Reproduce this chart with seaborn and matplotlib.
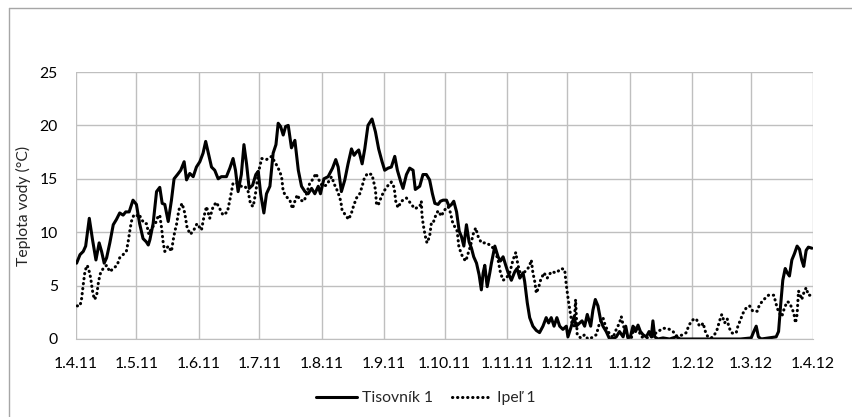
import matplotlib
matplotlib.use("Agg")
import matplotlib.pyplot as plt
import seaborn as sns
import pandas as pd
from matplotlib.lines import Line2D

# Day offsets from 1.4.2011 and water temperatures (°C)
tis_day = [0.3, 2, 3.6, 4.8, 6.6, 8.2, 9.9, 11.5, 12.7, 14, 15.2, 16.8, 18.5, 20.1, 21.7, 23.4,
           24.7, 26.4, 28.3, 30, 31.6, 33.3, 34.9, 35.9, 36.7, 38.3, 40, 41.6, 42.8, 44.1, 45.8,
           47.4, 48.7, 50.4, 52, 53.7, 54.9, 56.5, 58.2, 59.8, 61.5, 63.1, 64.4, 65.6, 67.3, 68.9,
           70.6, 72.2, 74.7, 76.4, 78, 79.2, 80.5, 82.1, 83.4, 84.7, 86, 87.7, 89.3, 90.5, 91.7,
           93.3, 94.6, 96.3, 97.9, 99.3, 100.4, 101.6, 102.9, 104.1, 105.4, 107, 108.7, 110.4,
           112, 113.7, 115.3, 117, 118.6, 120.3, 121.4, 123.1, 125.2, 127.4, 129, 130.2, 131.8,
           133.5, 135.1, 136.8, 138.1, 139.3, 140.4, 142.1, 143.4, 145, 147, 148.7, 150.3, 152,
           153.3, 155, 156.6, 158.3, 159.6, 161.3, 162.4, 164.1, 165.7, 167.4, 168.5, 170.7,
           172.3, 174, 175.6, 177, 178.2, 179.8, 181, 182.3, 184, 185.3, 186.5, 187.6, 189,
           190.3, 191.4, 192.6, 193.9, 195.2, 196.4, 197.5, 198.9, 200.2, 201.3, 202.2, 203,
           204.2, 205.5, 206.3, 208, 209.6, 210.8, 212.1, 213.4, 214.6, 216.2, 217.9, 219,
           220.4, 222, 222.8, 224.1, 225.3, 226.9, 228.6, 230.2, 231.9, 233.5, 234.7, 236,
           237.4, 238.8, 240.2, 241.8, 243.5, 244.3, 246, 247.3, 248.4, 250.1, 251.3, 252.6,
           253.9, 255.6, 256.7, 257.9, 259.2, 260.5, 261.7, 263.3, 265, 266.6, 268.3, 269.9,
           271.7, 273, 274.1, 275.3, 276.6, 277.9, 279.1, 280.3, 281.6, 283.2, 284.6, 285.7,
           286.5, 287.4, 289, 291.5, 294.8, 298.1, 300, 305, 310, 315, 320, 325, 330, 335.3,
           336.6, 337.8, 338.9, 340.3, 344, 347.7, 348.9, 349.9, 351, 352.2, 353.2, 354.3,
           355.5, 356.8, 358.1, 359.3, 360.4, 361.4, 362.6, 363.7, 365.5]
tis_val = [7.1, 7.9, 8.2, 8.7, 11.3, 9.3, 7.4, 9.0, 8.2, 7.1, 7.6, 9.0, 10.7, 11.2, 11.8, 11.6,
           11.9, 11.9, 13.0, 12.6, 10.8, 9.4, 9.1, 8.8, 9.3, 10.8, 13.8, 14.2, 12.7, 12.6, 11.0,
           13.0, 15.0, 15.4, 15.8, 16.6, 14.9, 15.5, 15.2, 16.1, 16.6, 17.4, 18.5, 17.5, 16.1,
           15.8, 15.0, 15.2, 15.2, 16.0, 16.9, 15.8, 13.8, 15.4, 18.2, 16.4, 14.1, 14.4, 15.4,
           15.7, 13.6, 11.8, 13.6, 14.3, 17.4, 18.2, 20.2, 19.9, 19.1, 19.9, 20.0, 17.9, 18.6,
           15.8, 14.3, 13.8, 13.6, 14.1, 13.6, 14.3, 13.6, 15.0, 15.2, 16.0, 16.8, 16.1, 13.8,
           14.9, 16.4, 17.8, 17.2, 17.5, 17.7, 16.4, 17.8, 20.0, 20.6, 19.4, 17.8, 16.6, 15.8,
           16.0, 16.1, 17.1, 15.8, 14.7, 14.1, 15.4, 16.0, 15.8, 14.0, 14.3, 15.4, 15.4, 14.9,
           13.6, 12.7, 12.6, 12.9, 13.0, 13.0, 12.4, 12.6, 12.9, 11.9, 10.1, 9.6, 8.7, 10.7,
           9.1, 8.5, 7.7, 7.1, 6.0, 4.6, 6.2, 6.9, 4.9, 6.2, 7.1, 8.7, 7.7, 7.3, 7.7, 6.9, 6.2,
           5.5, 6.3, 6.6, 5.7, 6.2, 5.4, 3.4, 2.0, 1.2, 0.8, 0.6, 1.2, 2.0, 1.5, 2.0, 1.2, 2.0,
           1.2, 0.9, 1.2, 0.2, 1.2, 2.1, 1.2, 1.5, 1.7, 1.2, 2.3, 1.2, 2.7, 3.7, 3.1, 1.8, 1.2,
           0.7, 0.0, 0.0, 0.2, 0.7, 0.2, 1.2, 0.1, 0.2, 1.2, 0.7, 1.3, 0.7, 0.4, 0.2, 0.7, 0.2,
           1.7, 0.2, 0.0, 0.1, 0.0, 0.2, 0.0, 0.0, 0.0, 0.0, 0.0, 0.0, 0.0, 0.1, 0.7, 1.2, 0.2,
           0.0, 0.1, 0.2, 0.7, 3.1, 5.5, 6.6, 6.2, 5.9, 7.4, 8.0, 8.7, 8.4, 7.4, 6.8, 8.3, 8.6,
           8.5]

ipel_day = [0.6, 2, 2.8, 3.6, 4.5, 5.6, 6.6, 7.3, 8.1, 9.1, 10.2, 11.2, 12.2, 13.5, 15.2, 16.8,
            18.5, 20.4, 21.7, 23.4, 25, 25.9, 26.7, 27.5, 28.7, 30, 31.3, 32.5, 34.1, 35, 36.2,
            37.5, 39.2, 40.8, 41.6, 42.5, 43.3, 44.1, 45.8, 47.4, 48.3, 49.1, 49.9, 51.1, 52.7,
            54, 55.2, 56.8, 58.5, 60.1, 62.3, 63.6, 64.8, 66.4, 68.1, 69.7, 71.4, 73, 75.2, 76.7,
            78, 79.7, 82.1, 83.9, 85.5, 86.7, 88, 89.3, 90.5, 92.2, 94.6, 97.1, 99.3, 100.9,
            102.1, 102.9, 104.6, 106.2, 107.5, 108.7, 109.9, 111.2, 113.3, 114.5, 116.1, 117.8,
            119.1, 120.6, 122.4, 124.4, 126.9, 128.5, 129.3, 130.5, 131.5, 132.1, 133.8, 135.4,
            136.8, 137.9, 139.3, 140.9, 142.1, 143.1, 144.7, 147, 148, 148.7, 149.2, 150, 151.2,
            152.8, 154.6, 156.6, 158, 158.8, 159.9, 161.6, 164.1, 166.2, 168.2, 170.7, 171.5,
            171.8, 172.3, 172.8, 173.5, 174.3, 175.6, 176.5, 177.4, 178.7, 179.8, 181.5, 182.6,
            184.8, 186, 186.9, 188.1, 189.3, 190.1, 191.1, 192.2, 193.6, 194.7, 195.9, 197.2,
            198.5, 199.7, 201.3, 203.8, 206.3, 208, 209.6, 210.8, 212.1, 213.7, 215.4, 217,
            218.4, 219, 220, 221.2, 222.3, 224.1, 225.3, 226.1, 226.9, 227.8, 228.6, 229.7,
            230.7, 232.4, 234, 236, 238.5, 241, 242.7, 243.1, 243.8, 244.6, 245.5, 246.3, 247.3,
            248.1, 248.9, 250.6, 252.6, 254.2, 255.9, 258.4, 260, 261.7, 262.8, 264.2, 266.6,
            268.3, 269.9, 270.8, 271.7, 272.5, 274.1, 275.8, 277.4, 279.1, 280.8, 283, 286,
            288.2, 289.9, 291.5, 293.2, 294.8, 296.5, 298.1, 299.8, 301.4, 303.1, 304.2, 305.1,
            306.4, 308, 309.4, 310.5, 311.4, 312.7, 313.8, 315.5, 317.1, 318.4, 319.6, 320.7,
            322.1, 323.4, 324.1, 325.4, 326.7, 327.9, 328.7, 330, 331.2, 332.8, 334.5, 336.1,
            338.3, 339.4, 341.6, 343.9, 346.5, 347.4, 348.2, 349.4, 350.5, 351.8, 353.2, 354.3,
            355.5, 356.5, 357.3, 358.1, 358.8, 359.8, 360.4, 361.4, 362.6, 363.7, 365.5]
ipel_val = [3.1, 3.1, 3.8, 5.1, 6.4, 6.9, 6.3, 5.7, 4.6, 3.7, 4.0, 5.4, 6.2, 6.6, 6.9, 6.3,
            6.6, 6.9, 7.6, 7.9, 8.2, 9.1, 10.1, 11.0, 11.6, 11.5, 11.7, 11.2, 10.8, 10.8, 9.8,
            10.4, 10.7, 11.5, 11.6, 10.4, 9.0, 8.2, 8.7, 8.2, 9.3, 10.1, 10.7, 12.1, 12.7, 11.8,
            10.4, 9.8, 10.2, 10.8, 10.2, 11.5, 12.4, 11.3, 12.4, 12.8, 12.2, 11.6, 11.9, 13.3,
            14.6, 14.6, 14.3, 14.3, 13.8, 12.6, 12.4, 13.8, 15.5, 16.9, 16.8, 17.1, 16.4, 15.8,
            15.2, 13.8, 13.3, 13.0, 12.2, 12.9, 13.5, 13.0, 12.9, 13.6, 14.6, 15.0, 15.5, 14.9,
            14.3, 14.4, 15.2, 14.4, 14.1, 13.5, 12.9, 12.1, 11.6, 11.2, 11.8, 12.5, 13.2, 13.6,
            14.3, 15.0, 15.5, 15.4, 14.6, 14.0, 12.7, 12.5, 13.1, 13.8, 14.3, 14.7, 14.2, 12.9,
            12.3, 12.9, 13.2, 12.7, 12.2, 12.4, 12.9, 11.6, 10.9, 10.3, 9.6, 9.0, 9.6, 10.9,
            10.9, 11.6, 12.0, 11.5, 12.0, 12.4, 11.8, 11.0, 10.5, 10.1, 8.7, 8.1, 7.6, 7.3, 8.0,
            8.7, 9.8, 10.4, 9.6, 9.0, 9.0, 8.7, 8.3, 7.4, 6.2, 5.5, 5.7, 6.2, 7.4, 8.1, 7.4, 6.5,
            5.9, 6.2, 6.5, 6.9, 7.4, 6.2, 5.4, 4.3, 4.8, 5.5, 6.2, 5.7, 6.3, 6.2, 6.6, 6.5, 5.7,
            4.6, 3.5, 2.4, 1.5, 1.2, 3.7, 0.4, 0.1, 0.4, 0.0, 0.1, 0.4, 1.5, 2.0, 1.3, 0.7, 0.1,
            0.9, 1.5, 2.1, 1.3, 0.9, 0.2, 0.1, 1.2, 0.9, 0.2, 0.1, 0.2, 0.6, 0.8, 1.0, 1.0, 0.9,
            0.7, 0.3, 0.3, 0.4, 0.6, 1.2, 1.5, 1.8, 1.9, 1.3, 1.2, 1.5, 0.6, 0.2, 0.1, 0.4, 0.9,
            1.7, 2.3, 1.5, 1.9, 1.2, 0.6, 0.5, 0.6, 1.2, 1.8, 2.4, 2.9, 3.1, 2.6, 2.6, 3.2, 3.7,
            4.1, 4.1, 3.5, 2.9, 2.4, 2.1, 2.9, 3.5, 3.4, 2.9, 2.4, 1.5, 2.3, 4.5, 4.0, 3.7, 4.3,
            4.8, 4.1, 4.1]

tick_days = [0, 30, 61, 91, 122, 153, 183, 214, 244, 275, 306, 335, 366]
tick_labels = ["1.4.11", "1.5.11", "1.6.11", "1.7.11", "1.8.11", "1.9.11", "1.10.11",
               "1.11.11", "1.12.11", "1.1.12", "1.2.12", "1.3.12", "1.4.12"]
y_ticks = [0, 5, 10, 15, 20, 25]
series_names = ["Tisovník 1", "Ipeľ 1"]

sns.set_style("white")
plt.rcParams['font.family'] = ['Lato', 'DejaVu Sans']

FS = 11.3
LW = 2.2
DOT = (0.1, 1.55)

df = pd.concat([
    pd.DataFrame({"day": tis_day, "temp": tis_val, "site": series_names[0]}),
    pd.DataFrame({"day": ipel_day, "temp": ipel_val, "site": series_names[1]}),
])

fig = plt.figure(figsize=(8.52, 4.17), dpi=100)
ax = fig.add_axes([76 / 852, 1 - 339 / 417, (813 - 76) / 852, (339 - 72) / 417])

sns.lineplot(data=df, x="day", y="temp", hue="site", style="site",
             palette={series_names[0]: "black", series_names[1]: "black"},
             dashes={series_names[0]: "", series_names[1]: DOT},
             linewidth=LW, sort=False, estimator=None, ax=ax, legend=False)
for ln in ax.get_lines():
    ln.set_dash_capstyle("round")
    ln.set_solid_joinstyle("round")

ax.set_xlim(0, 366)
ax.set_ylim(0, 25)
ax.set_xticks(tick_days)
ax.set_xticklabels(tick_labels)
ax.set_yticks(y_ticks)
ax.grid(True, color="#BFBFBF", linewidth=1)
ax.set_axisbelow(True)
for s in ["top", "right", "left"]:
    ax.spines[s].set_visible(False)
ax.spines["bottom"].set_color("#BFBFBF")
ax.tick_params(axis="both", length=0, labelsize=FS, colors="#000000")
ax.tick_params(axis="x", pad=13)
ax.tick_params(axis="y", pad=13)
ax.set_xlabel("")
ax.set_ylabel("Teplota vody (°C)", fontsize=FS, labelpad=6)

handles = [Line2D([], [], color="black", linewidth=LW),
           Line2D([], [], color="black", linewidth=LW, linestyle=(0, DOT),
                  dash_capstyle="round")]
fig.legend(handles, series_names, loc="center", bbox_to_anchor=(0.5, 1 - 398 / 417),
           ncol=2, frameon=False, fontsize=FS, handlelength=2.6, columnspacing=1.2,
           handletextpad=0.3)

# outer chart-area border (right/bottom edges lie outside the image)
fig.add_artist(Line2D([9 / 852, 9 / 852], [0, 1 - 8 / 417], transform=fig.transFigure,
                      color="#A6A6A6", linewidth=1))
fig.add_artist(Line2D([9 / 852, 1], [1 - 8 / 417, 1 - 8 / 417], transform=fig.transFigure,
                      color="#A6A6A6", linewidth=1))

fig.savefig("out.png", dpi=100)
